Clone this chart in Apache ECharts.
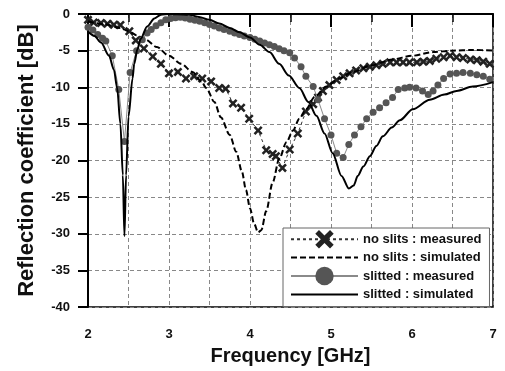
<!DOCTYPE html>
<html>
<head>
<meta charset="utf-8">
<script src="https://cdn.jsdelivr.net/npm/echarts@6/dist/echarts.min.js"></script>
<style>
  html, body { margin: 0; padding: 0; background: #fff; }
  #chart { width: 505px; height: 371px; }
</style>
</head>
<body>
<div id="chart"></div>
<script>
// 数据 [频率 GHz, 反射系数 dB]
var noSlitsMeasured = [
  [2.00, -0.8], [2.07, -1.15], [2.16, -1.24], [2.24, -1.33], [2.32, -1.46], [2.40, -1.5],
  [2.51, -2.35], [2.59, -3.6], [2.69, -4.7], [2.80, -5.8], [2.90, -6.8], [3.00, -8.1],
  [3.11, -7.9], [3.21, -8.8], [3.31, -8.5], [3.41, -8.8], [3.52, -9.2], [3.62, -10.1],
  [3.70, -10.2], [3.79, -12.2], [3.89, -12.8], [3.99, -14.3], [4.10, -15.9], [4.20, -18.6],
  [4.28, -19.1], [4.32, -19.4], [4.40, -21.0], [4.49, -18.5], [4.59, -16.3], [4.69, -13.3],
  [4.78, -12.3], [4.84, -11.4], [4.90, -10.5], [4.98, -9.7], [5.07, -9.0], [5.15, -8.5],
  [5.23, -8.1], [5.31, -7.7], [5.40, -7.4], [5.48, -7.2], [5.56, -7.0], [5.64, -6.8],
  [5.73, -6.6], [5.81, -6.6], [5.89, -6.6], [5.97, -6.6], [6.06, -6.6], [6.14, -6.5],
  [6.22, -6.4], [6.30, -6.1], [6.39, -5.9], [6.47, -5.7], [6.55, -5.9], [6.63, -6.0],
  [6.72, -6.2], [6.80, -6.3], [6.88, -6.5], [6.96, -6.8]
]
var noSlitsSimulated = [
  [2.00, -1.0], [2.20, -1.4], [2.40, -1.9], [2.51, -2.4], [2.60, -2.9], [2.71, -3.5],
  [2.85, -4.5], [3.00, -5.7], [3.15, -6.8], [3.29, -7.9], [3.40, -9.2], [3.46, -10.1],
  [3.56, -12.0], [3.64, -14.1], [3.75, -16.5], [3.83, -18.8], [3.90, -21.5], [3.95, -24.0],
  [4.00, -26.5], [4.05, -28.6], [4.10, -29.8], [4.14, -29.5], [4.20, -26.9], [4.28, -23.0],
  [4.36, -19.8], [4.45, -17.5], [4.53, -15.9], [4.61, -14.3], [4.69, -13.0], [4.80, -11.3],
  [4.94, -9.9], [5.10, -8.8], [5.27, -7.9], [5.50, -7.0], [5.76, -6.2], [6.00, -5.7],
  [6.26, -5.2], [6.50, -5.0], [6.75, -4.9], [7.00, -5.0]
]
var slittedMeasured = [
  [2.00, -1.8], [2.06, -2.2], [2.12, -2.8], [2.18, -3.3], [2.22, -3.7], [2.30, -5.7],
  [2.38, -10.3], [2.45, -17.4], [2.52, -8.0], [2.60, -5.0], [2.67, -3.5],
  [2.73, -2.6], [2.78, -2.1], [2.84, -1.6], [2.90, -1.2], [2.96, -0.8], [3.02, -0.6],
  [3.08, -0.5], [3.14, -0.45], [3.20, -0.55], [3.26, -0.7], [3.32, -0.85], [3.38, -1.0],
  [3.44, -1.2], [3.50, -1.45], [3.56, -1.65], [3.62, -1.9], [3.68, -2.1], [3.75, -2.35],
  [3.81, -2.6], [3.87, -2.8], [3.93, -3.0], [4.00, -3.2], [4.06, -3.45], [4.12, -3.7],
  [4.18, -3.95], [4.24, -4.2], [4.30, -4.45], [4.36, -4.75], [4.42, -5.0], [4.49, -5.3],
  [4.55, -6.0], [4.63, -7.2], [4.69, -8.5], [4.78, -9.9], [4.84, -11.7], [4.92, -14.3],
  [5.00, -16.5], [5.07, -19.0], [5.15, -19.6], [5.22, -17.8], [5.29, -16.5], [5.37, -15.4],
  [5.44, -14.3], [5.52, -13.4], [5.60, -12.8], [5.68, -12.1], [5.76, -11.4], [5.83, -10.3],
  [5.91, -10.1], [5.97, -10.0], [6.05, -10.1], [6.13, -10.5], [6.20, -11.0], [6.26, -10.5],
  [6.32, -9.7], [6.39, -8.8], [6.47, -8.2], [6.55, -8.1], [6.63, -8.0], [6.72, -8.1],
  [6.80, -8.3], [6.88, -8.5], [6.96, -8.9]
]
var slittedSimulated = [
  [2.00, -2.4], [2.08, -3.0], [2.16, -3.9], [2.26, -5.7], [2.32, -7.6], [2.36, -10.1],
  [2.40, -15.0], [2.43, -22.0], [2.45, -30.3], [2.47, -22.0], [2.50, -14.0], [2.55, -8.8],
  [2.57, -6.8], [2.61, -4.8], [2.65, -3.4], [2.73, -1.7], [2.82, -0.6], [2.90, -0.1],
  [3.00, 0], [3.10, -0.05], [3.25, -0.1], [3.37, -0.4], [3.50, -0.8], [3.62, -1.3],
  [3.75, -1.9], [3.87, -2.5], [4.00, -3.2], [4.12, -4.2], [4.24, -5.2], [4.36, -6.8],
  [4.48, -8.4], [4.61, -10.1], [4.72, -12.0], [4.82, -13.9], [4.92, -16.3], [5.02, -19.0],
  [5.13, -22.1], [5.22, -23.8], [5.28, -23.4], [5.33, -22.1], [5.40, -20.8], [5.48, -19.4],
  [5.56, -18.0], [5.64, -16.7], [5.75, -15.5], [5.85, -14.5], [6.01, -13.0], [6.22, -11.7],
  [6.40, -11.0], [6.55, -10.5], [6.75, -9.9], [7.00, -9.3]
]
var seriesNames = ["no slits : measured", "no slits : simulated", "slitted : measured", "slitted : simulated"]

var FONT = "Liberation Sans, Arial, sans-serif"
// X 形标记
var crossPath = "path://M0,2 L2,0 L5,3 L8,0 L10,2 L7,5 L10,8 L8,10 L5,7 L2,10 L0,8 L3,5 Z"

var myChart = echarts.init(document.getElementById("chart"))
var option = {
  animation: false,
  backgroundColor: "#fff",
  grid: {
    left: 88,
    right: 12,
    top: 14,
    bottom: 56,
    show: true,
    borderColor: "#000",
    borderWidth: 1.5,
  },
  legend: {
    orient: "vertical",
    left: 283,
    top: 228,
    padding: [2, 8, 3, 7],
    itemWidth: 67,
    itemHeight: 23,
    itemGap: 0,
    backgroundColor: "#fff",
    borderColor: "#666",
    borderWidth: 1,
    borderRadius: 0,
    textStyle: { fontFamily: FONT, fontWeight: "bold", fontSize: 13, color: "#111" },
    data: [
      { name: seriesNames[0] },
      { name: seriesNames[1], itemStyle: { opacity: 0 } },
      { name: seriesNames[2] },
      { name: seriesNames[3], itemStyle: { opacity: 0 } },
    ],
  },
  xAxis: {
    type: "value",
    min: 2,
    max: 7,
    interval: 1,
    name: "Frequency [GHz]",
    nameLocation: "middle",
    nameGap: 35,
    nameTextStyle: { fontFamily: FONT, fontWeight: "bold", fontSize: 20, color: "#111" },
    axisLine: { lineStyle: { color: "#000", width: 2 } },
    axisTick: { show: true, length: 13, lineStyle: { color: "#000", width: 2 } },
    minorTick: { show: true, splitNumber: 2, length: 8, lineStyle: { color: "#000", width: 1.5 } },
    axisLabel: { margin: 21, fontFamily: FONT, fontWeight: "bold", fontSize: 13, color: "#111" },
    splitLine: { show: true, lineStyle: { color: "#888", type: [4, 3], width: 1 } },
    minorSplitLine: { show: true, lineStyle: { color: "#888", type: [4, 3], width: 1 } },
  },
  yAxis: {
    type: "value",
    min: -40,
    max: 0,
    interval: 5,
    name: "Reflection coefficient [dB]",
    nameLocation: "middle",
    nameRotate: 90,
    nameGap: 50,
    nameTextStyle: { fontFamily: FONT, fontWeight: "bold", fontSize: 22, color: "#111" },
    axisLine: { show: true, lineStyle: { color: "#000", width: 2 } },
    axisTick: { show: true, length: 10, lineStyle: { color: "#000", width: 2 } },
    axisLabel: { margin: 18, fontFamily: FONT, fontWeight: "bold", fontSize: 13, color: "#111" },
    splitLine: { show: true, lineStyle: { color: "#888", type: [4, 3], width: 1 } },
  },
  series: [
    {
      name: seriesNames[0],
      type: "line",
      data: noSlitsMeasured,
      symbol: crossPath,
      symbolSize: 9,
      itemStyle: { color: "#222" },
      lineStyle: { color: "#333", width: 1, type: [3, 3] },
      z: 2,
    },
    {
      name: seriesNames[1],
      type: "line",
      data: noSlitsSimulated,
      showSymbol: false,
      symbol: "none",
      smooth: 0.3,
      smoothMonotone: "x",
      itemStyle: { color: "#000" },
      lineStyle: { color: "#000", width: 2, type: [6, 3] },
      z: 3,
    },
    {
      name: seriesNames[2],
      type: "line",
      data: slittedMeasured,
      symbol: "circle",
      symbolSize: 7,
      itemStyle: { color: "#555" },
      lineStyle: { color: "#8a8a8a", width: 1 },
      z: 4,
    },
    {
      name: seriesNames[3],
      type: "line",
      data: slittedSimulated,
      showSymbol: false,
      symbol: "none",
      smooth: 0.3,
      smoothMonotone: "x",
      itemStyle: { color: "#000" },
      lineStyle: { color: "#000", width: 2 },
      z: 5,
    },
  ],
}
myChart.setOption(option)
</script>
</body>
</html>
